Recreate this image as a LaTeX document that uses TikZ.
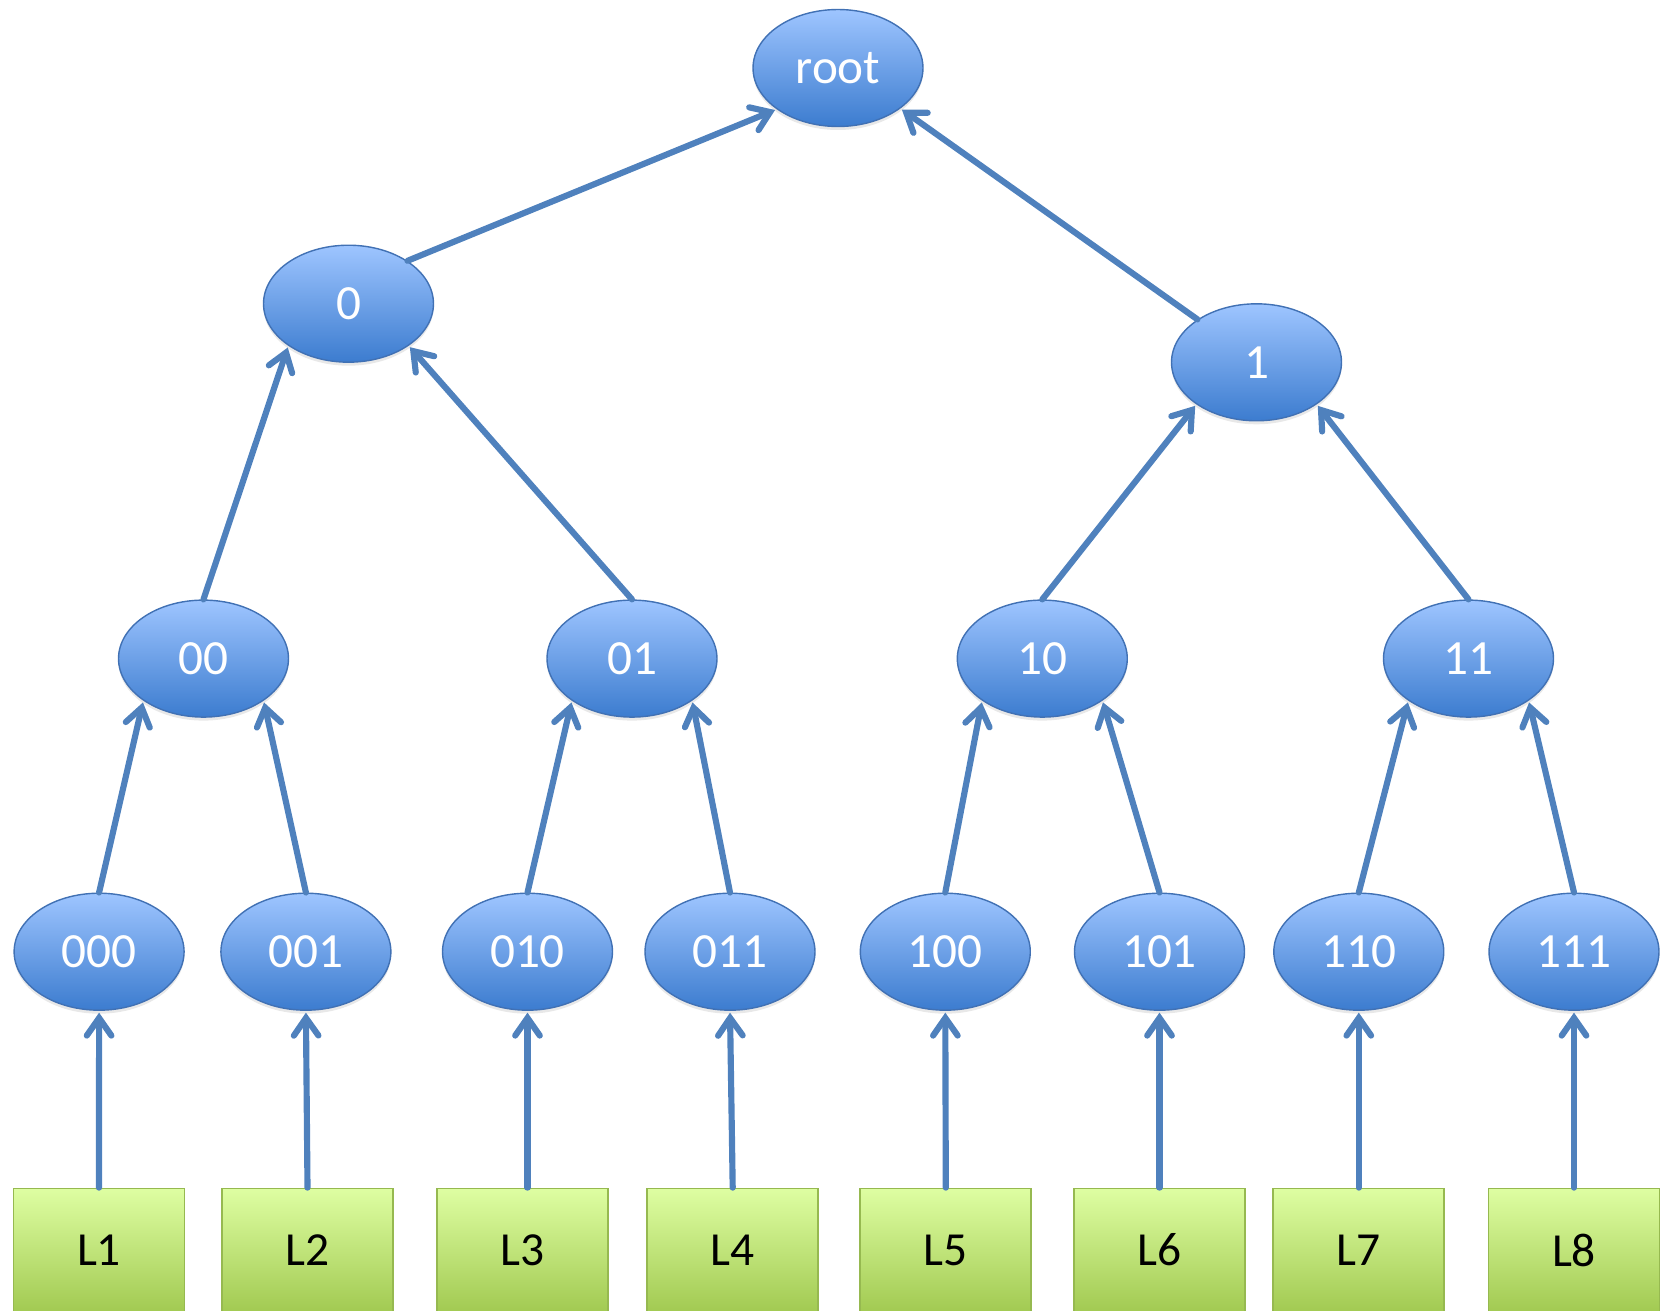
\documentclass[tikz,border=0pt]{standalone}
\usepackage{fontspec}
\setmainfont{Carlito}
\usetikzlibrary{shapes.geometric,arrows.meta,shadows}
\usepackage{xcolor}

\definecolor{ElTop}{RGB}{158,197,255}
\definecolor{ElBot}{RGB}{60,124,207}
\definecolor{ElLine}{RGB}{65,113,180}
\definecolor{BxTop}{RGB}{222,254,162}
\definecolor{BxBot}{RGB}{162,202,82}
\definecolor{BxLine}{RGB}{150,185,80}
\definecolor{LinkCol}{RGB}{79,129,189}

\tikzset{
  trie/.style={draw=ElLine,line width=0.8pt,ellipse,top color=ElTop,bottom color=ElBot,
    minimum width=3.4cm,minimum height=2.34cm,inner sep=0pt,text=white,
    drop shadow={shadow xshift=0pt,shadow yshift=-2pt,opacity=0.18},
    font=\fontsize{28}{32}\selectfont},
  leaf/.style={draw=BxLine,line width=1pt,rectangle,top color=BxTop,bottom color=BxBot,
    minimum width=3.42cm,minimum height=2.46cm,inner sep=0pt,text=black,
    drop shadow={shadow xshift=0pt,shadow yshift=-2pt,opacity=0.15},
    font=\fontsize{27}{32}\selectfont},
  link/.style={-{Straight Barb[length=10pt,width=14pt,line cap=round]},draw=LinkCol,
    line width=3.5pt,line cap=round,shorten >=1pt}
}

\begin{document}
\begin{tikzpicture}[x=0.02cm,y=-0.02cm]

  \useasboundingbox (0,0) rectangle (1671,1311);

  \node[trie] (root) at (838,68) {root};

  \node[trie] (n0) at (348.5,303.7) {0};
  \node[trie] (n1) at (1256.5,362.3) {1};

  \node[trie] (n00) at (203.5,658.6) {00};
  \node[trie] (n01) at (632,658.6) {01};
  \node[trie] (n10) at (1042.3,658.6) {10};
  \node[trie] (n11) at (1468.5,658.6) {11};

  \node[trie] (n000) at (99.1,951.7) {000};
  \node[trie] (n001) at (305.9,951.7) {001};
  \node[trie] (n010) at (527.5,951.7) {010};
  \node[trie] (n011) at (730,951.7) {011};
  \node[trie] (n100) at (945.3,951.7) {100};
  \node[trie] (n101) at (1159.5,951.7) {101};
  \node[trie] (n110) at (1358.8,951.7) {110};
  \node[trie] (n111) at (1574,951.7) {111};

  % leaves
  \node[leaf] (L1) at (99,1250) {L1};
  \node[leaf] (L2) at (307.5,1250) {L2};
  \node[leaf] (L3) at (522.5,1250) {L3};
  \node[leaf] (L4) at (732.7,1250) {L4};
  \node[leaf] (L5) at (945.8,1250) {L5};
  \node[leaf] (L6) at (1159.5,1250) {L6};
  \node[leaf] (L7) at (1358.8,1250) {L7};
  \node[leaf] (L8) at (1574,1250) {L8};

  % leaves to last level
  \draw[link] (L1.north) to (n000.south);
  \draw[link] (L2.north) to (n001.south);
  \draw[link] (L3.north -| n010.south) to (n010.south);
  \draw[link] (L4.north) to (n011.south);
  \draw[link] (L5.north) to (n100.south);
  \draw[link] (L6.north) to (n101.south);
  \draw[link] (L7.north) to (n110.south);
  \draw[link] (L8.north) to (n111.south);

  % upwards
  \draw[link] (n000.north) to (n00.215);
  \draw[link] (n001.north) to (n00.325);
  \draw[link] (n010.north) to (n01.215);
  \draw[link] (n011.north) to (n01.325);
  \draw[link] (n100.north) to (n10.215);
  \draw[link] (n101.north) to (n10.325);
  \draw[link] (n110.north) to (n11.215);
  \draw[link] (n111.north) to (n11.325);

  \draw[link] (n00.north) to (n0.215);
  \draw[link] (n01.north) to (n0.325);
  \draw[link] (n10.north) to (n1.215);
  \draw[link] (n11.north) to (n1.325);

  \draw[link] (n0.36) to (root.214);
  \draw[link] (n1.144) to (root.327);

\end{tikzpicture}
\end{document}
